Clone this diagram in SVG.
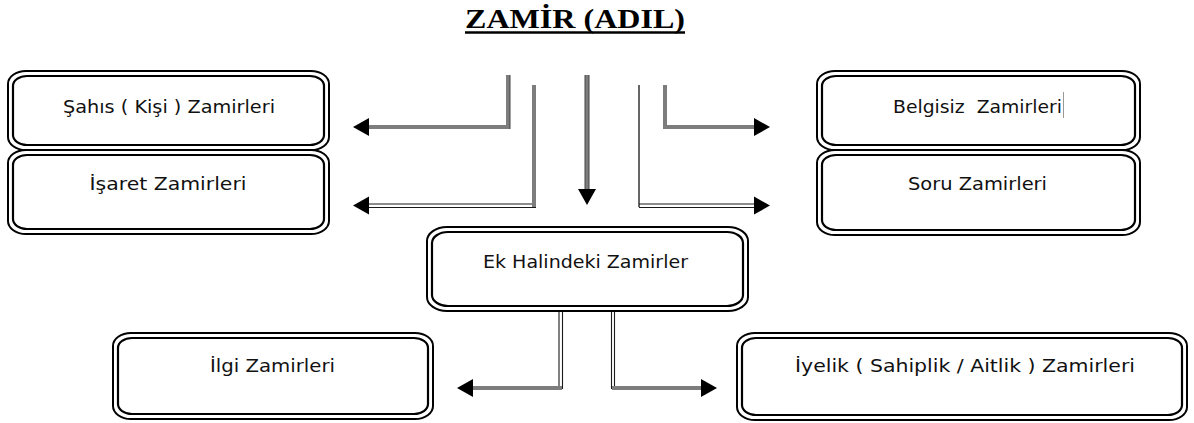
<svg xmlns="http://www.w3.org/2000/svg" width="1194" height="423" viewBox="0 0 1194 423">
  <style>
    .outer { fill: #ffffff; stroke: #000; stroke-width: 2; }
    .inner { fill: none; stroke: #000; stroke-width: 2.2; }
    .label { font-family: "Comic Sans MS", "DejaVu Sans", "Noto Sans", sans-serif; font-size: 18px; fill: #111; text-anchor: middle; }
    .title { font-family: "Liberation Serif", "Times New Roman", serif; font-size: 28px; font-weight: bold; fill: #000; text-anchor: middle; }
    .shade { fill: none; stroke: #7d7d7d; stroke-width: 4; stroke-linecap: butt; }
    .edge { fill: none; stroke: #444; stroke-width: 1; }
    .thin { fill: none; stroke: #333; stroke-width: 1.5; }
    .dbl { fill: none; stroke: #1a1a1a; stroke-width: 1.1; }
    .head { fill: #000; }
  </style>
  <defs>
    <!-- arrowhead pointing right, tip at the origin -->
    <path id="tri" d="M0,0 L-16,-9 L-16,9 Z"/>
  </defs>

  <rect width="1194" height="423" fill="#ffffff"/>

  <!-- heading -->
  <g id="title">
    <text class="title" x="575" y="28" textLength="220" lengthAdjust="spacingAndGlyphs">ZAMİR (ADIL)</text>
    <line x1="465" y1="32.5" x2="685" y2="32.5" stroke="#000" stroke-width="2.5"/>
  </g>

  <!-- connectors -->
  <g id="connectors">
    <!-- to Şahıs -->
    <path class="shade" d="M508,75 V127 H369"/>
    <line class="edge" x1="510" y1="75" x2="510" y2="129"/>
    <use href="#tri" class="head" transform="translate(353,127) rotate(180)"/>

    <!-- to İşaret -->
    <path class="shade" d="M534,85 V207"/>
    <path class="dbl" d="M532,204 H369 M536,207.5 H369"/>
    <use href="#tri" class="head" transform="translate(353,205.5) rotate(180)"/>

    <!-- down to Ek Halindeki -->
    <path class="shade" d="M587,75 V190"/>
    <line class="edge" x1="585" y1="75" x2="585" y2="190"/>
    <line class="edge" x1="589" y1="75" x2="589" y2="190"/>
    <use href="#tri" class="head" transform="translate(587,205) rotate(90)"/>

    <!-- to Soru -->
    <path class="thin" d="M639,85 V207"/>
    <path class="dbl" d="M639,204 H754 M639,207.5 H754"/>
    <use href="#tri" class="head" transform="translate(770,205.5)"/>

    <!-- to Belgisiz -->
    <path class="shade" d="M665,85 V127 H754"/>
    <use href="#tri" class="head" transform="translate(770,127)"/>

    <!-- Ek Halindeki to İlgi -->
    <path class="dbl" d="M559,311 V389 M562.5,311 V389"/>
    <path class="shade" d="M562,388 H473"/>
    <use href="#tri" class="head" transform="translate(457,388) rotate(180)"/>

    <!-- Ek Halindeki to İyelik -->
    <path class="dbl" d="M611.5,311 V389 M614.5,311 V389"/>
    <path class="shade" d="M612,388 H701"/>
    <use href="#tri" class="head" transform="translate(717,388)"/>
  </g>

  <!-- nodes -->
  <g id="node-sahis">
    <rect class="outer" x="8" y="71" width="321" height="79" rx="18" ry="13"/>
    <rect class="inner" x="13" y="76" width="311" height="69" rx="14" ry="10"/>
    <text class="label" x="169" y="113" textLength="212" lengthAdjust="spacingAndGlyphs">Şahıs ( Kişi ) Zamirleri</text>
  </g>

  <g id="node-isaret">
    <rect class="outer" x="8" y="150" width="321" height="84" rx="18" ry="13"/>
    <rect class="inner" x="13" y="155" width="311" height="74" rx="14" ry="10"/>
    <text class="label" x="168" y="190" textLength="157" lengthAdjust="spacingAndGlyphs">İşaret Zamirleri</text>
  </g>

  <g id="node-belgisiz">
    <rect class="outer" x="817" y="71" width="323" height="79" rx="18" ry="13"/>
    <rect class="inner" x="822" y="76" width="313" height="69" rx="14" ry="10"/>
    <text class="label" x="977.5" y="113" xml:space="preserve" textLength="169" lengthAdjust="spacingAndGlyphs">Belgisiz  Zamirleri</text>
    <line x1="1063.5" y1="92" x2="1063.5" y2="118" stroke="#999" stroke-width="1"/>
  </g>

  <g id="node-soru">
    <rect class="outer" x="817" y="150" width="323" height="85" rx="18" ry="13"/>
    <rect class="inner" x="822" y="155" width="313" height="75" rx="14" ry="10"/>
    <text class="label" x="977.5" y="190" textLength="139" lengthAdjust="spacingAndGlyphs">Soru Zamirleri</text>
  </g>

  <g id="node-ek">
    <rect class="outer" x="427" y="227" width="321" height="84" rx="20" ry="14"/>
    <rect class="inner" x="432" y="232" width="311" height="74" rx="16" ry="11"/>
    <text class="label" x="585.5" y="268" textLength="205" lengthAdjust="spacingAndGlyphs">Ek Halindeki Zamirler</text>
  </g>

  <g id="node-ilgi">
    <rect class="outer" x="113" y="333" width="320" height="86" rx="18" ry="13"/>
    <rect class="inner" x="118" y="338" width="310" height="76" rx="14" ry="10"/>
    <text class="label" x="272.5" y="372" textLength="125" lengthAdjust="spacingAndGlyphs">İlgi Zamirleri</text>
  </g>

  <g id="node-iyelik">
    <rect class="outer" x="737" y="333" width="450" height="87" rx="18" ry="13"/>
    <rect class="inner" x="742" y="338" width="440" height="77" rx="14" ry="10"/>
    <text class="label" x="965" y="372" textLength="340" lengthAdjust="spacingAndGlyphs">İyelik ( Sahiplik / Aitlik ) Zamirleri</text>
  </g>
</svg>
